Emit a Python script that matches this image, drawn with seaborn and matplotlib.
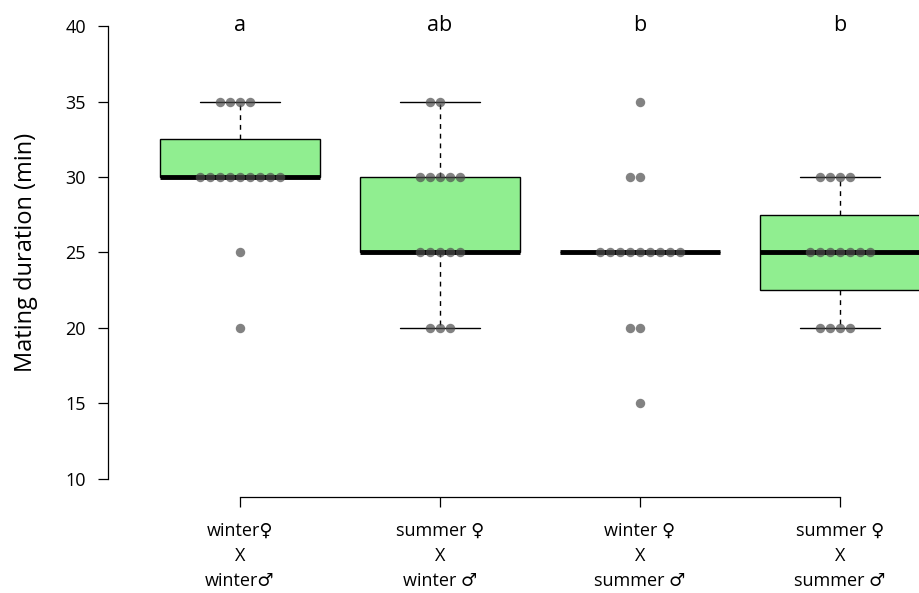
import matplotlib
matplotlib.use("Agg")
import matplotlib.pyplot as plt
import pandas as pd
import seaborn as sns

# ---- data ----
group_keys = ['ww', 'sw', 'ws', 'ss']
tick_labels = ['winter\u2640\nX\nwinter\u2642',
               'summer \u2640\nX\nwinter \u2642',
               'winter \u2640\nX\nsummer \u2642',
               'summer \u2640\nX\nsummer \u2642']
letters = ['a', 'ab', 'b', 'b']

ww = [35, 35, 35, 35, 30, 30, 30, 30, 30, 30, 30, 30, 30, 25, 20]
sw = [35, 35, 30, 30, 30, 30, 30, 25, 25, 25, 25, 25, 20, 20, 20]
ws = [35, 30, 30, 25, 25, 25, 25, 25, 25, 25, 25, 25, 20, 20, 15]
ss = [30, 30, 30, 30, 25, 25, 25, 25, 25, 25, 25, 20, 20, 20, 20]

df = pd.DataFrame({
    'group': ['ww'] * len(ww) + ['sw'] * len(sw) + ['ws'] * len(ws) + ['ss'] * len(ss),
    'duration': ww + sw + ws + ss,
})

sns.set_style("white")
plt.rcParams['font.family'] = ['Open Sans', 'DejaVu Sans']
plt.rcParams['text.color'] = 'black'

fig = plt.figure(figsize=(9.19, 5.93), dpi=100)
ax = fig.add_axes([0.1175, 0.1619, 0.940, 0.8246])

sns.boxplot(data=df, x='group', y='duration', order=group_keys, ax=ax,
            color='#90EE90', saturation=1, width=0.8, linecolor='black',
            linewidth=1.0, showfliers=False,
            whiskerprops={'linestyle': (0, (3.5, 3.5))},
            capprops={'linestyle': '-'},
            medianprops={'linewidth': 3.5, 'color': 'black', 'solid_capstyle': 'butt'})

sns.swarmplot(data=df, x='group', y='duration', order=group_keys, ax=ax,
              color=(0.3, 0.3, 0.3), alpha=0.7, size=6.8, linewidth=0, zorder=5)

# significance letters
for i, lab in enumerate(letters):
    ax.text(i, 39.7, lab, ha='center', va='baseline', fontsize=15.5, color='black')

ax.set_xlim(-0.66, 3.66)
ax.set_ylim(8.8, 41.2)
ax.set_yticks([10, 15, 20, 25, 30, 35, 40])
ax.set_xticks(range(4))
ax.set_xticklabels(tick_labels, linespacing=1.5)

for s in ['top', 'right']:
    ax.spines[s].set_visible(False)
ax.spines['left'].set_bounds(10, 40)
ax.spines['bottom'].set_bounds(0, 3)
for s in ['left', 'bottom']:
    ax.spines[s].set_color('black')
    ax.spines[s].set_linewidth(0.9)

ax.tick_params(axis='both', direction='out', length=7, width=0.9, color='black',
               labelsize=13, labelcolor='black', left=True, bottom=True)
ax.tick_params(axis='y', pad=9)
ax.tick_params(axis='x', pad=11)

ax.set_xlabel('')
ax.set_ylabel('Mating duration (min)', fontsize=17, color='black')
ax.yaxis.set_label_coords(-0.081, 0.5)

fig.savefig('out.png', dpi=100)
